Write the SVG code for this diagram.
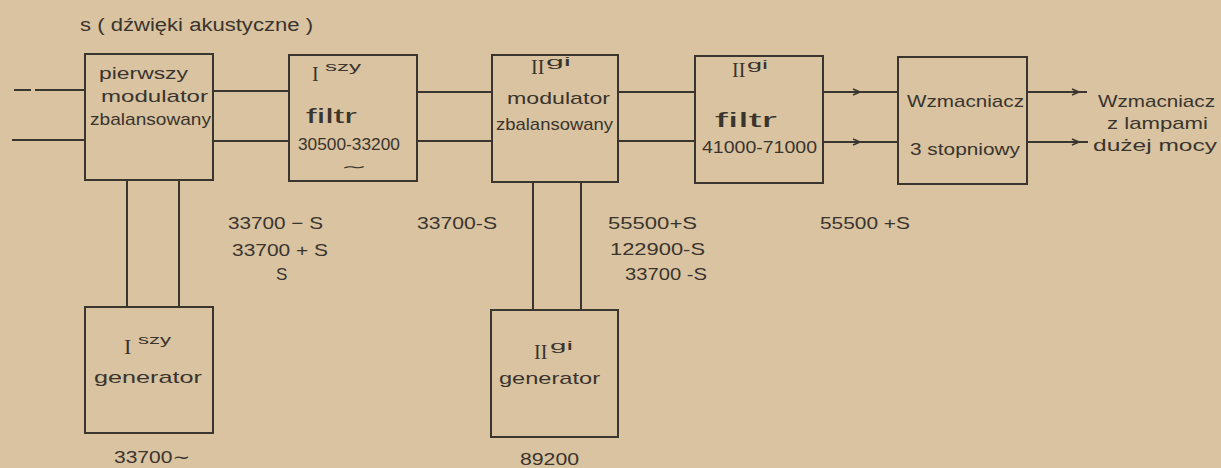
<svg xmlns="http://www.w3.org/2000/svg" width="1221" height="468" viewBox="0 0 1221 468">
<defs>
<style>
.box{fill:none;stroke:#3b352f;stroke-width:2}
.ln{stroke:#3b352f;stroke-width:2;fill:none}
.ah{stroke:#3b352f;stroke-width:1.6;fill:none}
text{font-family:"Liberation Sans","DejaVu Sans",sans-serif;fill:#3a342e;font-size:17px}
.rom{font-family:"Liberation Serif","DejaVu Serif",serif;font-size:20px}
.sup{font-size:12px}
.big{font-size:21px}
</style>
<path id="ah" d="M-7,-3 L0,0 L-7,3"/>
</defs>
<rect x="0" y="0" width="1221" height="468" fill="#d9c3a0"/>

<text x="80" y="31" textLength="233" lengthAdjust="spacingAndGlyphs" style="font-size:18px">s ( dźwięki akustyczne )</text>

<g id="connectors">
<path class="ln" d="M14,90 H31 M35,90 H85"/>
<path class="ln" d="M12,140 H85"/>
<path class="ln" d="M213,91 H289 M213,141 H289"/>
<path class="ln" d="M417,92 H492 M417,141 H492"/>
<path class="ln" d="M618,92 H695 M618,141 H695"/>
<path class="ln" d="M823,92 H898 M823,142 H898"/>
<path class="ln" d="M1027,92 H1087 M1027,142 H1088"/>
<path class="ln" d="M127,180 V307 M179,180 V307"/>
<path class="ln" d="M533,182 V310 M581,182 V310"/>
<use href="#ah" class="ah" x="860" y="92"/>
<use href="#ah" class="ah" x="860" y="142"/>
<use href="#ah" class="ah" x="1079" y="92"/>
<use href="#ah" class="ah" x="1079" y="142"/>
</g>

<g id="mod1">
<rect class="box" x="85" y="54" width="128" height="126"/>
<text x="99" y="79" textLength="89" lengthAdjust="spacingAndGlyphs">pierwszy</text>
<text x="101" y="102" textLength="107" lengthAdjust="spacingAndGlyphs">modulator</text>
<text x="90" y="125" textLength="121" lengthAdjust="spacingAndGlyphs">zbalansowany</text>
</g>

<g id="filtr1">
<rect class="box" x="289" y="55" width="128" height="126"/>
<text class="rom" x="312" y="81">I</text>
<text class="sup" x="325" y="71" textLength="36" lengthAdjust="spacingAndGlyphs">szy</text>
<text class="big" x="306" y="123" textLength="51" lengthAdjust="spacingAndGlyphs">filtr</text>
<text x="298" y="150" textLength="102" lengthAdjust="spacingAndGlyphs">30500-33200</text>
<text x="341" y="172" textLength="26" lengthAdjust="spacingAndGlyphs" style="font-size:15px">∼</text>
</g>

<g id="mod2">
<rect class="box" x="492" y="55" width="126" height="127"/>
<text class="rom" x="531" y="74">II</text>
<text class="sup" x="546" y="66" textLength="25" lengthAdjust="spacingAndGlyphs">gi</text>
<text x="507" y="104" textLength="103" lengthAdjust="spacingAndGlyphs">modulator</text>
<text x="496" y="130" textLength="117" lengthAdjust="spacingAndGlyphs">zbalansowany</text>
</g>

<g id="filtr2">
<rect class="box" x="695" y="56" width="128" height="127"/>
<text class="rom" x="732" y="77">II</text>
<text class="sup" x="747" y="69" textLength="21" lengthAdjust="spacingAndGlyphs">gi</text>
<text class="big" x="715" y="127" textLength="62" lengthAdjust="spacingAndGlyphs">filtr</text>
<text x="702" y="153" textLength="115" lengthAdjust="spacingAndGlyphs">41000-71000</text>
</g>

<g id="wzm">
<rect class="box" x="898" y="57" width="129" height="127"/>
<text x="907" y="107" textLength="117" lengthAdjust="spacingAndGlyphs">Wzmacniacz</text>
<text x="910" y="155" textLength="110" lengthAdjust="spacingAndGlyphs">3 stopniowy</text>
</g>

<g id="out">
<text x="1098" y="107" textLength="117" lengthAdjust="spacingAndGlyphs">Wzmacniacz</text>
<text x="1107" y="129" textLength="101" lengthAdjust="spacingAndGlyphs">z lampami</text>
<text x="1093" y="151" textLength="124" lengthAdjust="spacingAndGlyphs">dużej mocy</text>
</g>

<g id="gen1">
<rect class="box" x="85" y="307" width="128" height="126"/>
<text class="rom" x="124" y="354" style="font-size:22px">I</text>
<text class="sup" x="138" y="344" textLength="33" lengthAdjust="spacingAndGlyphs">szy</text>
<text x="94" y="383" textLength="108" lengthAdjust="spacingAndGlyphs">generator</text>
</g>

<g id="gen2">
<rect class="box" x="491" y="310" width="127" height="127"/>
<text class="rom" x="534" y="359">II</text>
<text class="sup" x="550" y="350" textLength="23" lengthAdjust="spacingAndGlyphs">gi</text>
<text x="499" y="384" textLength="101" lengthAdjust="spacingAndGlyphs">generator</text>
</g>

<g id="labels">
<text x="228" y="229" textLength="95" lengthAdjust="spacingAndGlyphs">33700 − S</text>
<text x="232" y="256" textLength="96" lengthAdjust="spacingAndGlyphs">33700 + S</text>
<text x="276" y="280">S</text>
<text x="417" y="229" textLength="80" lengthAdjust="spacingAndGlyphs">33700-S</text>
<text x="608" y="229" textLength="89" lengthAdjust="spacingAndGlyphs">55500+S</text>
<text x="610" y="255" textLength="95" lengthAdjust="spacingAndGlyphs">122900-S</text>
<text x="625" y="280" textLength="82" lengthAdjust="spacingAndGlyphs">33700 -S</text>
<text x="820" y="229" textLength="90" lengthAdjust="spacingAndGlyphs">55500 +S</text>
<text x="114" y="463" textLength="76" lengthAdjust="spacingAndGlyphs">33700∼</text>
<text x="520" y="465" textLength="59" lengthAdjust="spacingAndGlyphs">89200</text>
</g>
</svg>
